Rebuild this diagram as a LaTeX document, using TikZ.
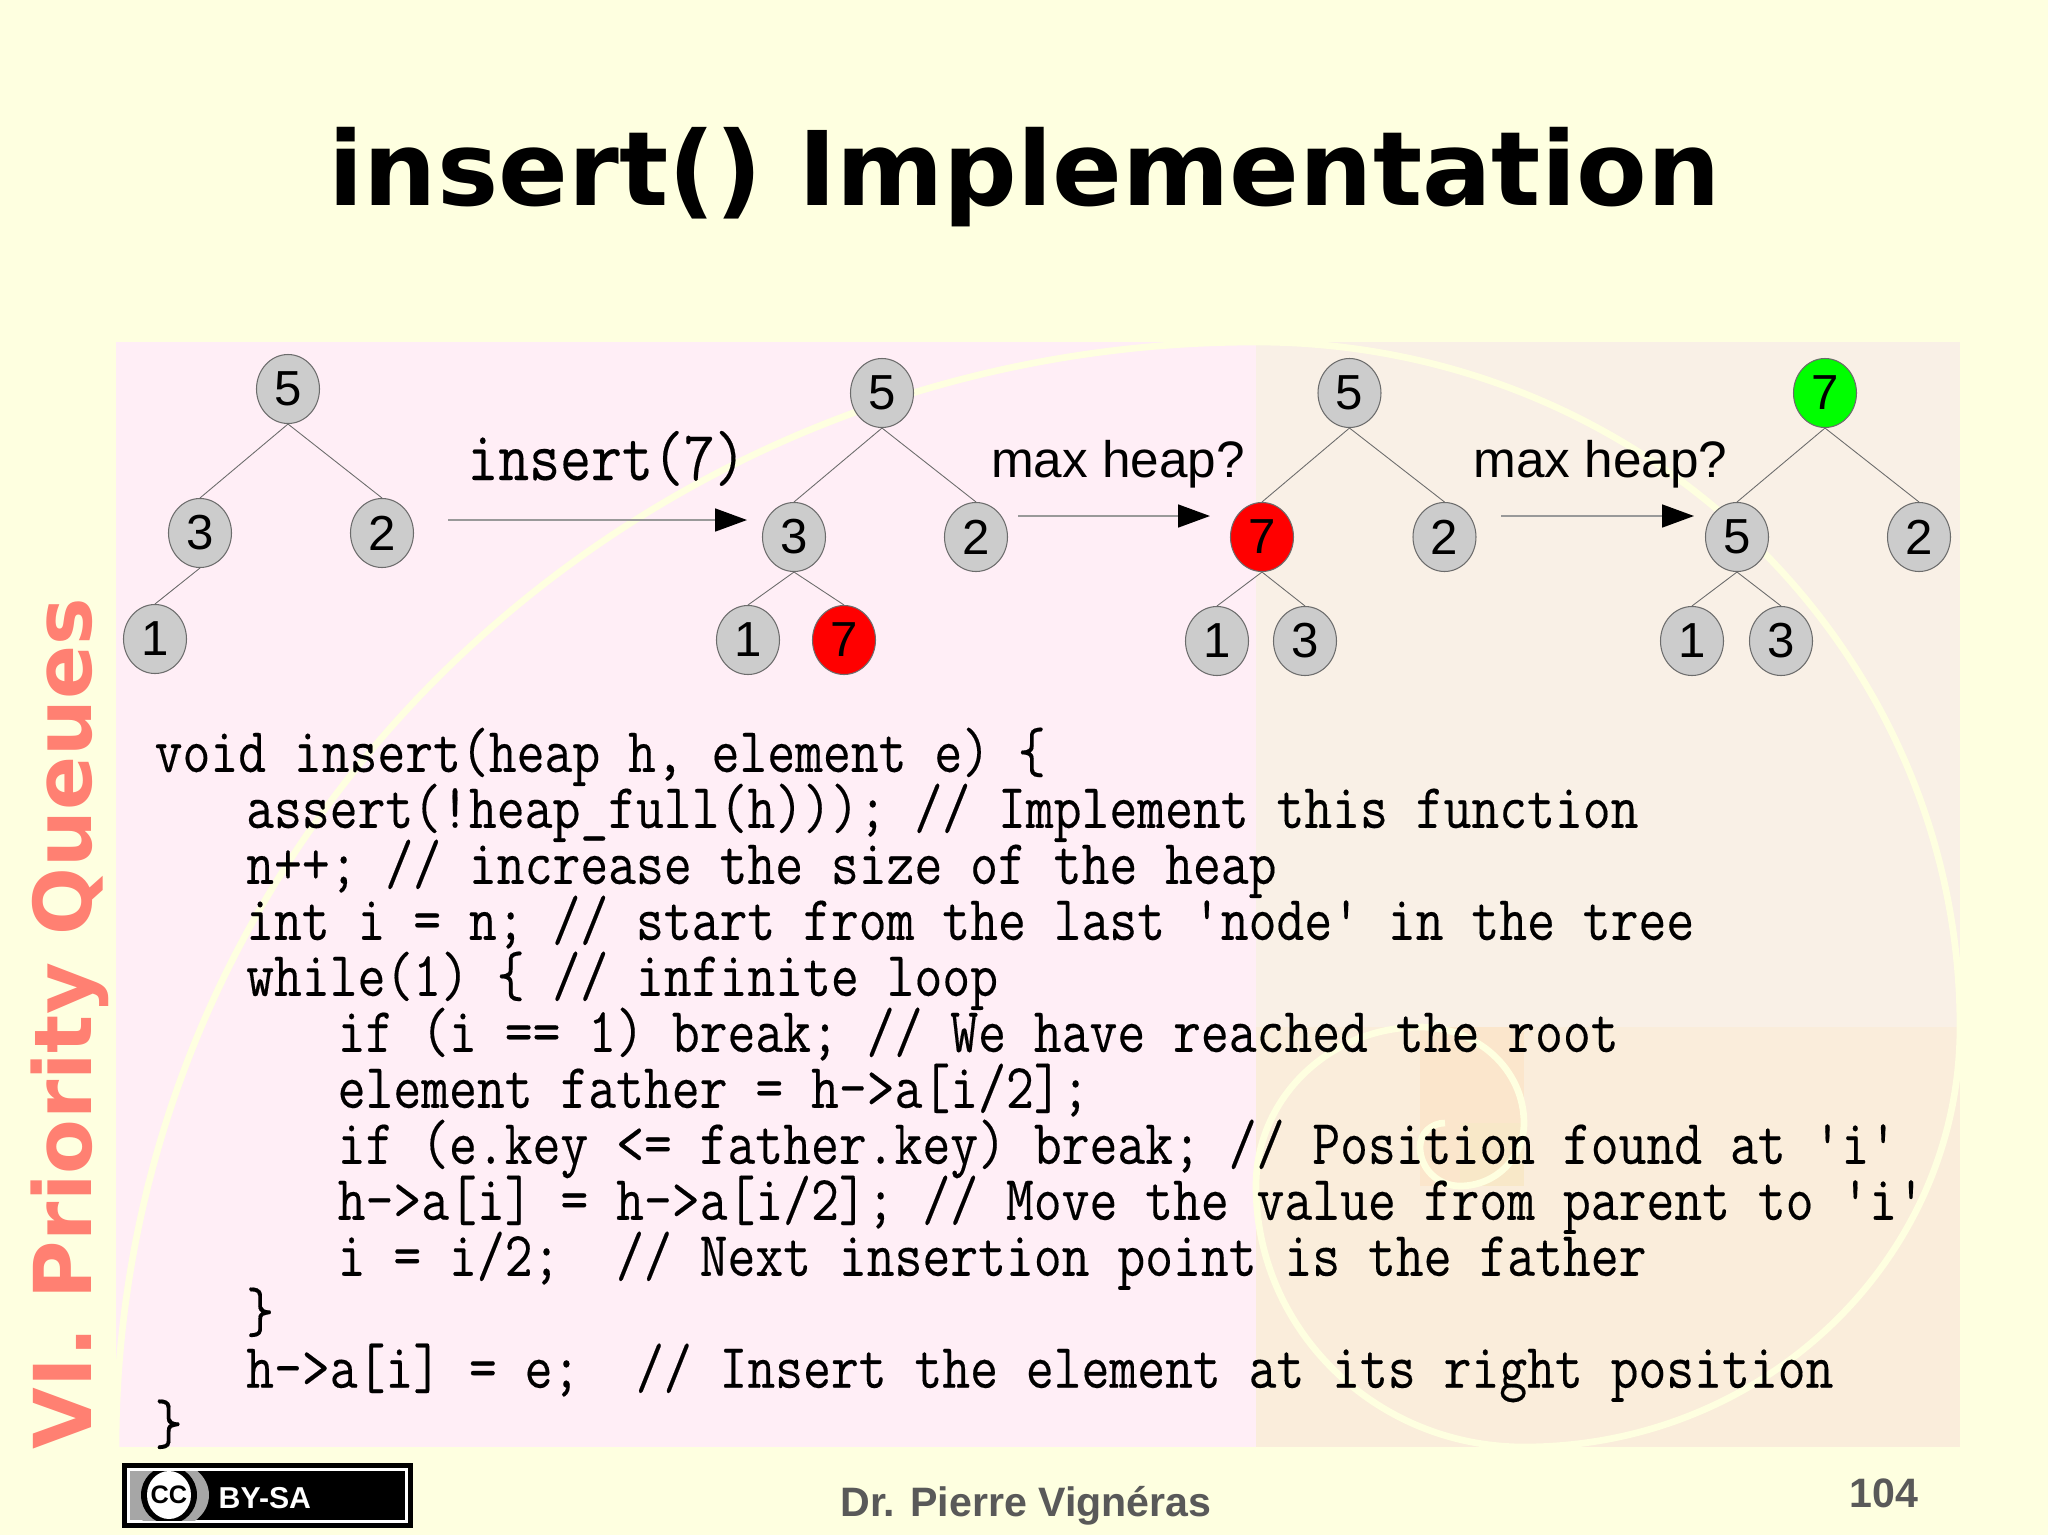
\documentclass[tikz,border=0pt]{standalone}
\usepackage{xcolor}
\usepackage{fontspec}
\usepackage{tikz}
\usetikzlibrary{arrows.meta,positioning,shapes.geometric}
\setmainfont{Liberation Sans}
\newfontfamily\titlefont{DejaVu Sans}[BoldFont={DejaVu Sans Bold}]
\newfontfamily\codefont{Latin Modern Mono}[FakeStretch=0.85,FakeBold=0.25]
\definecolor{slidebg}{HTML}{FEFFE0}
\definecolor{panelpink}{HTML}{FFEEF6}
\definecolor{panelbeige}{HTML}{F9F0E6}
\definecolor{panelpeach}{HTML}{FAEDDB}
\definecolor{panelsquare}{HTML}{FBE6CC}
\definecolor{panelcore}{HTML}{F8E8C8}
\definecolor{sidesalmon}{HTML}{FF8072}
\newcommand{\levelone}{\hspace*{0.915cm}}
\newcommand{\leveltwo}{\hspace*{1.83cm}}
\setlength{\lineskiplimit}{-20pt}

\begin{document}
\begin{tikzpicture}[
  on grid,
  heapnode/.style={ellipse, draw=gray!85!black, line width=0.3pt, fill=black!20, inner sep=0pt,
    minimum width=0.63cm, minimum height=0.69cm, font=\fontsize{14}{15}\selectfont},
  hotnode/.style={heapnode, fill=red},
  okaynode/.style={heapnode, fill=green},
  edge/.style={draw=gray!85!black, line width=0.25pt},
  arrow/.style={-{Triangle[length=3.2mm,width=2.3mm,black]}, draw=gray!80, line width=0.5pt},
  steplabel/.style={anchor=base, inner sep=0pt, font=\fontsize{14.6}{17}\selectfont},
  codelabel/.style={anchor=base, inner sep=0pt, font=\codefont\fontsize{20.1}{23}\selectfont}
]
  \useasboundingbox (0,0) rectangle (20.48,-15.35);

  % slide background
  \fill[slidebg] (0,0) rectangle (20.48,-15.35);
  \fill[panelpink] (1.16,-3.42) rectangle (12.56,-14.47);
  \fill[panelbeige] (12.56,-3.42) rectangle (19.60,-10.27);
  \fill[panelpeach] (12.56,-10.27) rectangle (19.60,-14.47);
  \fill[panelsquare] (14.20,-10.27) rectangle (15.24,-11.86);
  \fill[panelcore] (14.60,-11.23) rectangle (15.24,-11.86);
  \draw[slidebg, line width=1.9pt] (1.16,-14.47)
    arc[start angle=180, end angle=90, x radius=11.40, y radius=11.05]
    arc[start angle=90, end angle=0, x radius=7.04, y radius=6.85]
    arc[start angle=0, end angle=-90, x radius=4.36, y radius=4.20]
    arc[start angle=-90, end angle=-180, x radius=2.68, y radius=2.61]
    arc[start angle=180, end angle=90, x radius=1.64, y radius=1.59]
    arc[start angle=90, end angle=0, x radius=1.04, y radius=0.96]
    arc[start angle=0, end angle=-90, x radius=0.64, y radius=0.63]
    arc[start angle=-90, end angle=-180, x radius=0.40, y radius=0.39]
    arc[start angle=180, end angle=90, x radius=0.25, y radius=0.24];

  \node[anchor=base, inner sep=0pt, font=\titlefont\bfseries\fontsize{29.3}{36}\selectfont] (title) at (10.245,-2.05) {insert() Implementation};
  \node[anchor=base west, rotate=90, inner sep=0pt, text=sidesalmon, font=\titlefont\bfseries\fontsize{22.7}{28}\selectfont] (side) at (0.91,-14.50) {VI. Priority Queues};

  % first heap
  \node[heapnode] (a5) at (2.88,-3.89) {5};
  \node[heapnode, below left=1.44cm and 0.88cm of a5] (a3) {3};
  \node[heapnode, below right=1.44cm and 0.94cm of a5] (a2) {2};
  \node[heapnode, below left=1.06cm and 0.45cm of a3] (a1) {1};
  \draw[edge] (a5.south) -- (a3.north);
  \draw[edge] (a5.south) -- (a2.north);
  \draw[edge] (a3.south) -- (a1.north);

  % second heap
  \node[heapnode] (b5) at (8.82,-3.93) {5};
  \node[heapnode, below left=1.44cm and 0.88cm of b5] (b3) {3};
  \node[heapnode, below right=1.44cm and 0.94cm of b5] (b2) {2};
  \node[heapnode, below left=1.03cm and 0.46cm of b3] (b1) {1};
  \node[hotnode, below right=1.03cm and 0.50cm of b3] (b7) {7};
  \draw[edge] (b5.south) -- (b3.north);
  \draw[edge] (b5.south) -- (b2.north);
  \draw[edge] (b3.south) -- (b1.north);
  \draw[edge] (b3.south) -- (b7.north);

  % third heap
  \node[heapnode] (c5) at (13.495,-3.93) {5};
  \node[hotnode, below left=1.44cm and 0.875cm of c5] (c7) {7};
  \node[heapnode, below right=1.44cm and 0.95cm of c5] (c2) {2};
  \node[heapnode, below left=1.04cm and 0.45cm of c7] (c1) {1};
  \node[heapnode, below right=1.04cm and 0.43cm of c7] (c3) {3};
  \draw[edge] (c5.south) -- (c7.north);
  \draw[edge] (c5.south) -- (c2.north);
  \draw[edge] (c7.south) -- (c1.north);
  \draw[edge] (c7.south) -- (c3.north);

  % fourth heap
  \node[okaynode] (d7) at (18.25,-3.93) {7};
  \node[heapnode, below left=1.44cm and 0.88cm of d7] (d5) {5};
  \node[heapnode, below right=1.44cm and 0.94cm of d7] (d2) {2};
  \node[heapnode, below left=1.04cm and 0.45cm of d5] (d1) {1};
  \node[heapnode, below right=1.04cm and 0.44cm of d5] (d3) {3};
  \draw[edge] (d7.south) -- (d5.north);
  \draw[edge] (d7.south) -- (d2.north);
  \draw[edge] (d5.south) -- (d1.north);
  \draw[edge] (d5.south) -- (d3.north);

  % steps between the heaps
  \coordinate (insertfrom) at (4.48,-5.20);
  \coordinate (insertto) at (7.47,-5.20);
  \coordinate (firstfrom) at (10.18,-5.16);
  \coordinate (firstto) at (12.10,-5.16);
  \coordinate (secondfrom) at (15.01,-5.16);
  \coordinate (secondto) at (16.94,-5.16);
  \draw[arrow] (insertfrom) -- node[codelabel, yshift=0.40cm, xshift=0.09cm] (insertlabel) {insert(7)} (insertto);
  \draw[arrow] (firstfrom) -- node[steplabel, yshift=0.39cm, xshift=0.04cm] (firstlabel) {max heap?} (firstto);
  \draw[arrow] (secondfrom) -- node[steplabel, yshift=0.39cm, xshift=0.03cm] (secondlabel) {max heap?} (secondto);

  \node[anchor=north west, inner sep=0pt, align=left, font=\codefont\fontsize{18.1}{15.93}\selectfont] (listing) at (1.54,-7.27) {%
void insert(heap h, element e) \{\\
\levelone assert(!heap\_full(h))); // Implement this function\\
\levelone n++; // increase the size of the heap\\
\levelone int i = n; // start from the last 'node' in the tree\\
\levelone while(1) \{ // infinite loop\\
\leveltwo if (i == 1) break; // We have reached the root\\
\leveltwo element father = h->a[i/2];\\
\leveltwo if (e.key <= father.key) break; // Position found at 'i'\\
\leveltwo h->a[i] = h->a[i/2]; // Move the value from parent to 'i'\\
\leveltwo i = i/2;~~// Next insertion point is the father\\
\levelone \}\\
\levelone h->a[i] = e;~~// Insert the element at its right position\\
\}};

  % licence badge and footer
  \fill[black] (1.22,-14.63) rectangle (4.13,-15.28);
  \fill[white] (1.27,-14.68) rectangle (4.08,-15.23);
  \fill[black] (1.30,-14.71) rectangle (4.05,-15.20);
  \begin{scope}
    \clip (1.30,-14.71) rectangle (4.05,-15.20);
    \fill[black!35] (1.30,-14.71) rectangle (1.69,-15.20);
    \fill[black!35] (1.69,-14.95) ellipse[x radius=0.40cm, y radius=0.34cm];
    \fill[black] (1.69,-14.95) ellipse[x radius=0.28cm, y radius=0.29cm];
    \fill[white] (1.69,-14.95) ellipse[x radius=0.22cm, y radius=0.24cm];
  \end{scope}
  \node[inner sep=0pt, font=\bfseries\fontsize{7.2}{9}\selectfont] (ccmark) at (1.69,-14.95) {CC};
  \node[anchor=base west, inner sep=0pt, text=white, font=\bfseries\fontsize{8.6}{10}\selectfont] (bysa) at (2.18,-15.08) {BY-SA};
  \node[anchor=base, inner sep=0pt, text=black!65, font=\bfseries\fontsize{11.7}{14}\selectfont] (author) at (10.26,-15.16) {Dr. Pierre Vignéras};
  \node[anchor=base, inner sep=0pt, text=black!65, font=\bfseries\fontsize{11.7}{14}\selectfont] (pageno) at (18.84,-15.07) {104};
\end{tikzpicture}
\end{document}
